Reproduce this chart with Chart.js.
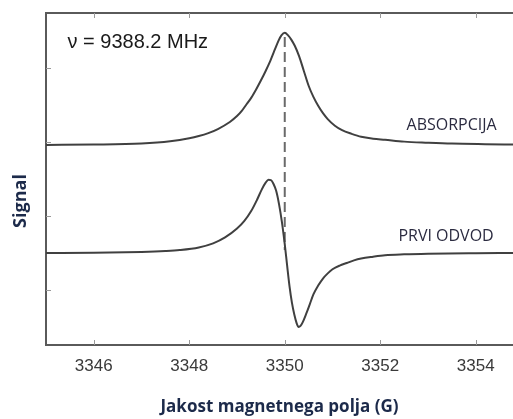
<!DOCTYPE html>
<html>
<head>
<meta charset="utf-8">
<script src="https://cdn.jsdelivr.net/npm/chart.js@4/dist/chart.umd.min.js"></script>
<style>
  html, body { margin: 0; padding: 0; background: #fff; }
  canvas { display: block; }
</style>
</head>
<body>
<canvas id="epr" width="513" height="419"></canvas>
<script>
// Field values (G) and signal
const fieldAbs = [3345, 3346, 3347, 3347.6, 3348.0, 3348.2, 3348.4, 3348.6, 3348.85, 3349.0, 3349.1, 3349.2, 3349.3, 3349.4, 3349.5, 3349.6, 3349.7, 3349.8, 3349.87, 3349.93, 3350.0, 3350.07, 3350.14, 3350.21, 3350.3, 3350.4, 3350.5, 3350.6, 3350.7, 3350.8, 3350.9, 3351.05, 3351.2, 3351.4, 3351.6, 3351.85, 3352.1, 3352.5, 3353, 3353.5, 3354.2, 3354.8];
const signalAbs = [1.96, 1.965, 1.98, 2.01, 2.05, 2.08, 2.12, 2.175, 2.27, 2.35, 2.42, 2.51, 2.60, 2.71, 2.83, 2.96, 3.10, 3.26, 3.37, 3.44, 3.475, 3.44, 3.38, 3.30, 3.16, 2.96, 2.76, 2.61, 2.49, 2.39, 2.31, 2.22, 2.16, 2.11, 2.07, 2.045, 2.03, 2.005, 1.99, 1.978, 1.97, 1.965];

const fieldDer = [3345, 3346, 3347, 3347.5, 3347.8, 3348.2, 3348.5, 3348.75, 3349.0, 3349.15, 3349.3, 3349.42, 3349.52, 3349.6, 3349.66, 3349.71, 3349.76, 3349.82, 3349.88, 3349.94, 3350.0, 3350.05, 3350.1, 3350.15, 3350.2, 3350.25, 3350.29, 3350.33, 3350.38, 3350.45, 3350.52, 3350.6, 3350.7, 3350.8, 3350.9, 3351.0, 3351.15, 3351.3, 3351.45, 3351.6, 3351.85, 3352.1, 3352.5, 3353, 3354, 3354.8];
const signalDer = [0.50, 0.503, 0.515, 0.527, 0.54, 0.575, 0.63, 0.71, 0.83, 0.93, 1.07, 1.22, 1.36, 1.45, 1.49, 1.485, 1.44, 1.34, 1.16, 0.92, 0.62, 0.33, 0.05, -0.17, -0.33, -0.45, -0.50, -0.485, -0.43, -0.32, -0.20, -0.06, 0.06, 0.155, 0.225, 0.28, 0.33, 0.365, 0.40, 0.425, 0.45, 0.47, 0.482, 0.49, 0.497, 0.5];

// dashed marker at the resonance field
const centerField = [3350, 3350];
const centerSignal = [3.42, 0.54];

const xTicks = [3346, 3348, 3350, 3352, 3354];
const yTicks = [0, 1, 2, 3];

const labels = [
    { text: 'ν = 9388.2 MHz', x: 3345.45, y: 3.34, font: '20px "Liberation Sans", Arial, sans-serif', color: '#1a1a1a' },
    { text: 'ABSORPCIJA', x: 3352.55, y: 2.22, font: '16px "Open Sans", sans-serif', color: '#2b2b40' },
    { text: 'PRVI ODVOD', x: 3352.38, y: 0.73, font: '16px "Open Sans", sans-serif', color: '#2b2b40' }
];

function toPoints(xs, ys) {
    return xs.map((x, i) => ({ x: x, y: ys[i] }));
}

// top frame line, inward ticks, annotations and y title
const framePlugin = {
    id: 'frame',
    afterDraw(chart) {
        const ctx = chart.ctx;
        const area = chart.chartArea;
        const xs = chart.scales.x;
        const ys = chart.scales.y;
        ctx.save();

        ctx.strokeStyle = '#5a5a5a';
        ctx.lineWidth = 2;
        ctx.beginPath();
        ctx.moveTo(area.left - 1, area.top);
        ctx.lineTo(area.right, area.top);
        ctx.stroke();

        ctx.strokeStyle = '#999';
        ctx.lineWidth = 1;
        ctx.beginPath();
        xTicks.forEach(v => {
            const px = Math.round(xs.getPixelForValue(v)) + 0.5;
            ctx.moveTo(px, area.bottom);
            ctx.lineTo(px, area.bottom - 5);
            ctx.moveTo(px, area.top);
            ctx.lineTo(px, area.top + 5);
        });
        yTicks.forEach(v => {
            const py = Math.round(ys.getPixelForValue(v)) + 0.5;
            ctx.moveTo(area.left, py);
            ctx.lineTo(area.left + 5, py);
        });
        ctx.stroke();

        ctx.textBaseline = 'middle';
        ctx.textAlign = 'left';
        labels.forEach(l => {
            ctx.font = l.font;
            ctx.fillStyle = l.color;
            ctx.fillText(l.text, xs.getPixelForValue(l.x), ys.getPixelForValue(l.y));
        });

        ctx.translate(21, 201);
        ctx.rotate(-Math.PI / 2);
        ctx.textAlign = 'center';
        ctx.font = 'bold 18px "Open Sans", sans-serif';
        ctx.fillStyle = '#1c2a4a';
        ctx.fillText('Signal', 0, 0);
        ctx.restore();
    }
};

new Chart(document.getElementById('epr'), {
    type: 'line',
    data: {
        datasets: [
            {
                data: toPoints(fieldAbs, signalAbs),
                borderColor: '#404040',
                borderWidth: 2,
                pointRadius: 0,
                cubicInterpolationMode: 'monotone'
            },
            {
                data: toPoints(fieldDer, signalDer),
                borderColor: '#404040',
                borderWidth: 2,
                pointRadius: 0,
                cubicInterpolationMode: 'monotone'
            },
            {
                data: toPoints(centerField, centerSignal),
                borderColor: '#6a6a6a',
                borderWidth: 2,
                borderDash: [10, 5],
                pointRadius: 0
            }
        ]
    },
    options: {
        responsive: false,
        animation: false,
        layout: { padding: { top: 13, right: 0, left: 0, bottom: 0 } },
        plugins: {
            legend: { display: false },
            tooltip: { enabled: false }
        },
        scales: {
            x: {
                type: 'linear',
                min: 3345,
                max: 3354.78,
                grid: { display: false, drawTicks: false },
                border: { display: true, color: '#5a5a5a', width: 2 },
                afterBuildTicks: s => { s.ticks = xTicks.map(v => ({ value: v })); },
                afterFit: s => { s.height = 74; },
                ticks: {
                    padding: 11,
                    color: '#3a3a3a',
                    font: { family: '"Liberation Sans", Arial, sans-serif', size: 17 },
                    callback: v => String(v)
                },
                title: {
                    display: true,
                    text: 'Jakost magnetnega polja (G)',
                    color: '#1c2a4a',
                    font: { family: '"Open Sans", sans-serif', size: 17, weight: 'bold' },
                    padding: { top: 0, bottom: 2 }
                }
            },
            y: {
                min: -0.743,
                max: 3.743,
                grid: { display: false, drawTicks: false },
                border: { display: true, color: '#5a5a5a', width: 2 },
                afterBuildTicks: s => { s.ticks = yTicks.map(v => ({ value: v })); },
                afterFit: s => { s.width = 46; },
                ticks: { display: false }
            }
        }
    },
    plugins: [framePlugin]
});
</script>
</body>
</html>
